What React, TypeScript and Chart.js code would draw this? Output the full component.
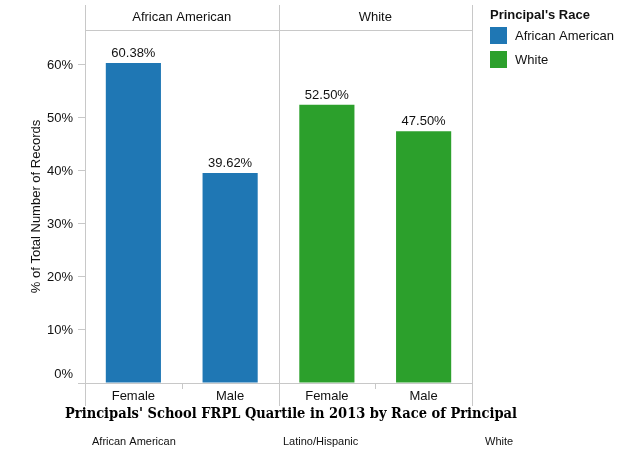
import React, { useEffect, useRef } from "react";
import { Chart, registerables } from "chart.js";

Chart.register(...registerables);

const categories = ["Female", "Male", "Female", "Male"];
const panels = ["African American", "White"];
const africanAmerican = [60.38, 39.62, null, null];
const white = [null, null, 52.5, 47.5];
const yTicks = [0, 10, 20, 30, 40, 50, 60];
const legendTitle = "Principal's Race";
const legendItems = ["African American", "White"];
const chartTitle = "Principals' School FRPL Quartile in 2013 by Race of Principal";
const bottomLabels = ["African American", "Latino/Hispanic", "White"];
const yTitle = "% of Total Number of Records";

const BLUE = "#1f77b4";
const GREEN = "#2ca02c";
const LINE = "#c8c8c8";
const TEXT = "#111";
const SANS = "'Liberation Sans', Arial, sans-serif";

const decor = {
  id: "decor",
  afterDatasetsDraw(chart: any) {
    const { ctx, chartArea } = chart;
    const x = chart.scales.x;
    const y = chart.scales.y;
    const { left, right, top, bottom } = chartArea;
    const mid = (x.getPixelForValue(1) + x.getPixelForValue(2)) / 2;
    ctx.save();
    ctx.strokeStyle = LINE;
    ctx.lineWidth = 1;
    // panel vertical lines
    [left, mid, right].forEach((px) => {
      const p = Math.round(px) + 0.5;
      ctx.beginPath();
      ctx.moveTo(p, 5);
      ctx.lineTo(p, 406);
      ctx.stroke();
    });
    // header line
    ctx.beginPath();
    ctx.moveTo(left, Math.round(top) + 0.5);
    ctx.lineTo(right, Math.round(top) + 0.5);
    ctx.stroke();
    // short category ticks
    [0, 2].forEach((i) => {
      const p = Math.round((x.getPixelForValue(i) + x.getPixelForValue(i + 1)) / 2) + 0.5;
      ctx.beginPath();
      ctx.moveTo(p, bottom);
      ctx.lineTo(p, bottom + 6);
      ctx.stroke();
    });
    // panel headers
    ctx.fillStyle = TEXT;
    ctx.font = `13px ${SANS}`;
    ctx.textAlign = "center";
    ctx.textBaseline = "middle";
    ctx.fillText(panels[0], (left + mid) / 2, 17);
    ctx.fillText(panels[1], (mid + right) / 2, 17);
    // data labels
    chart.data.datasets.forEach((ds: any, di: number) => {
      const meta = chart.getDatasetMeta(di);
      meta.data.forEach((bar: any, i: number) => {
        const v = ds.data[i];
        if (v == null) return;
        ctx.textBaseline = "bottom";
        ctx.fillText(v.toFixed(2) + "%", bar.x, bar.y - 3);
      });
    });
    // 0% label (nudged above the axis like the original)
    ctx.textAlign = "right";
    ctx.textBaseline = "middle";
    ctx.fillText(yTicks[0] + "%", left - 12, y.getPixelForValue(yTicks[0]) - 9);
    // y title
    ctx.save();
    ctx.textAlign = "center";
    ctx.translate(36, (top + bottom) / 2);
    ctx.rotate(-Math.PI / 2);
    ctx.textBaseline = "middle";
    ctx.fillText(yTitle, 0, 0);
    ctx.restore();
    // legend
    ctx.textAlign = "left";
    ctx.textBaseline = "middle";
    ctx.font = `bold 13px ${SANS}`;
    ctx.fillText(legendTitle, 490, 15);
    ctx.font = `13px ${SANS}`;
    [BLUE, GREEN].forEach((c, i) => {
      ctx.fillStyle = c;
      ctx.fillRect(490, 27 + i * 24, 17, 17);
      ctx.fillStyle = TEXT;
      ctx.fillText(legendItems[i], 515, 36 + i * 24);
    });
    // chart title
    ctx.font = `bold 14px 'DejaVu Serif', serif`;
    ctx.textAlign = "center";
    const w = ctx.measureText(chartTitle).width;
    const target = 452;
    ctx.save();
    ctx.translate(291, 414);
    ctx.scale(target / w, 1.05);
    ctx.fillStyle = "#000";
    ctx.fillText(chartTitle, 0, 0);
    ctx.restore();
    // bottom labels
    ctx.font = `11px ${SANS}`;
    ctx.textAlign = "left";
    ctx.fillStyle = TEXT;
    ctx.fillText(bottomLabels[0], 92, 442);
    ctx.fillText(bottomLabels[1], 283, 442);
    ctx.fillText(bottomLabels[2], 485, 442);
    ctx.restore();
  },
};

export default function App() {
  const ref = useRef<HTMLCanvasElement>(null);
  useEffect(() => {
    if (!ref.current) return;
    const chart = new Chart(ref.current, {
      type: "bar",
      data: {
        labels: categories,
        datasets: [
          { label: legendItems[0], data: africanAmerican, backgroundColor: BLUE },
          { label: legendItems[1], data: white, backgroundColor: GREEN },
        ],
      },
      options: {
        responsive: false,
        animation: false,
        devicePixelRatio: 1,
        layout: { padding: { left: 0, right: 166, top: 30, bottom: 50 } },
        datasets: { bar: { grouped: false, categoryPercentage: 1, barPercentage: 0.57 } },
        plugins: { legend: { display: false }, tooltip: { enabled: false }, title: { display: false } },
        scales: {
          x: {
            grid: { display: true, drawOnChartArea: false, drawTicks: false, color: LINE },
            border: { display: true, color: LINE },
            ticks: { padding: 6, color: TEXT, font: { size: 13, family: SANS } },
            afterFit: (s: any) => { s.height = 17; },
          },
          y: {
            min: 0,
            max: 66.6,
            afterBuildTicks: (s: any) => { s.ticks = yTicks.map((v) => ({ value: v })); },
            grid: { display: true, drawOnChartArea: false, drawTicks: true, tickLength: 7, color: LINE },
            border: { display: false },
            ticks: {
              padding: 5,
              color: TEXT,
              font: { size: 13, family: SANS },
              callback: (v: any) => (v === 0 ? "" : v + "%"),
            },
            afterFit: (s: any) => { s.width = 85; },
          },
        },
      },
      plugins: [decor],
    });
    return () => chart.destroy();
  }, []);
  return (
    <div style={{ position: "absolute", left: 0, top: 0, width: 638, height: 450, background: "#fff" }}>
      <canvas ref={ref} width={638} height={450} style={{ width: 638, height: 450 }} />
    </div>
  );
}
